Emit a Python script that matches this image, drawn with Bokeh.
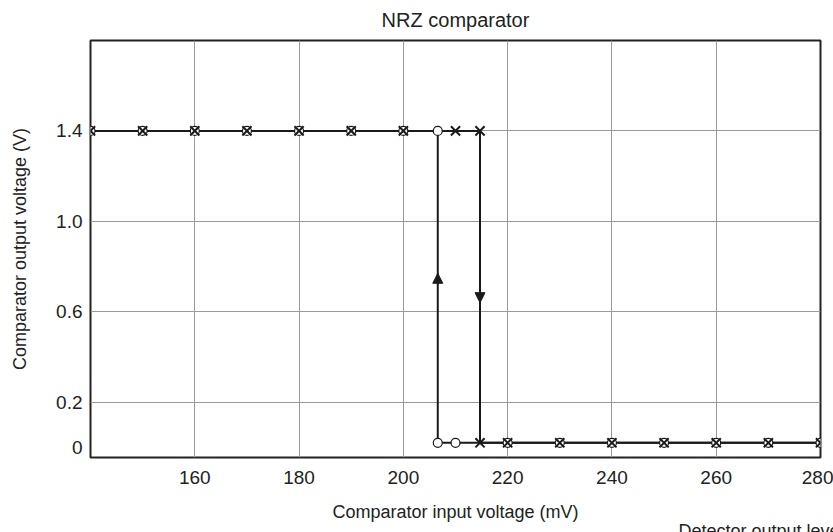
from bokeh.plotting import figure
from bokeh.models import (ColumnDataSource, Range1d, FixedTicker, Label, Arrow,
                          NormalHead, PrintfTickFormatter)
from bokeh.embed import file_html
from bokeh.resources import INLINE

# ---- data ----
HIGH = 1.4
LOW = 0.02
# increasing sweep (x markers)
inc_x_high = [140, 150, 160, 170, 180, 190, 200, 210, 214.7]
inc_x_low = [214.7, 220, 230, 240, 250, 260, 270, 280]
# decreasing sweep (circle markers)
dec_x_low = [280, 270, 260, 250, 240, 230, 220, 210, 206.6]
dec_x_high = [206.6, 200, 190, 180, 170, 160, 150, 140]
# arrows on the vertical transitions
arrow_x = [206.6, 214.7]
arrow_tail = [0.66, 0.75]
arrow_tip = [0.77, 0.64]

x_ticks = [160, 180, 200, 220, 240, 260, 280]
y_ticks = [0, 0.2, 0.6, 1.0, 1.4]
y_grid = [0.2, 0.6, 1.0, 1.4]

FONT = "Liberation Sans"
TXT = "#222222"

p = figure(width=833, height=532, output_backend="svg", toolbar_location=None,
           x_range=Range1d(140, 280), y_range=Range1d(-0.045, 1.8),
           min_border_left=90, min_border_right=13, min_border_top=40,
           min_border_bottom=75, title="NRZ comparator")
p.background_fill_color = "white"
p.border_fill_color = "white"
p.outline_line_color = "#222222"
p.outline_line_width = 2

p.title.align = "center"
p.title.vertical_align = "top"
p.title.text_font = FONT
p.title.text_font_size = "20px"
p.title.text_font_style = "normal"
p.title.text_color = TXT
p.title.standoff = 16

p.xaxis.ticker = FixedTicker(ticks=x_ticks)
p.yaxis.ticker = FixedTicker(ticks=y_ticks)
p.xgrid.ticker = FixedTicker(ticks=x_ticks)
p.ygrid.ticker = FixedTicker(ticks=y_grid)
for g in (p.xgrid, p.ygrid):
    g.grid_line_color = "#9a9a9a"
    g.grid_line_width = 1

for ax in (p.xaxis, p.yaxis):
    ax.axis_line_color = None
    ax.major_tick_line_color = None
    ax.minor_tick_line_color = None
    ax.major_tick_out = 0
    ax.major_tick_in = 0
    ax.major_label_text_font = FONT
    ax.major_label_text_font_size = "19px"
    ax.major_label_text_color = TXT
    ax.axis_label_text_font = FONT
    ax.axis_label_text_font_size = "18px"
    ax.axis_label_text_font_style = "normal"
    ax.axis_label_text_color = TXT

p.yaxis.axis_label = "Comparator output voltage (V)"
p.xaxis.major_label_standoff = 13
p.yaxis.major_label_standoff = 8
p.yaxis.axis_label_standoff = 23
p.yaxis.formatter = PrintfTickFormatter(format="%.1f")
p.yaxis.major_label_overrides = {0: "0"}

inc_x = inc_x_high + inc_x_low
inc_y = [HIGH] * len(inc_x_high) + [LOW] * len(inc_x_low)
dec_x = dec_x_low + dec_x_high
dec_y = [LOW] * len(dec_x_low) + [HIGH] * len(dec_x_high)

inc = ColumnDataSource(dict(x=inc_x, y=inc_y))
dec = ColumnDataSource(dict(x=dec_x, y=dec_y))

p.line("x", "y", source=inc, line_color="#1a1a1a", line_width=2)
p.line("x", "y", source=dec, line_color="#1a1a1a", line_width=2)

p.scatter("x", "y", source=dec, marker="circle", size=9, fill_color="white",
          line_color="#1a1a1a", line_width=1.2)
p.scatter("x", "y", source=inc, marker="x", size=13, line_color="#1a1a1a",
          line_width=2)

arr = ColumnDataSource(dict(x0=arrow_x, y0=arrow_tail, x1=arrow_x, y1=arrow_tip))
p.add_layout(Arrow(x_start="x0", y_start="y0", x_end="x1", y_end="y1",
                   source=arr, line_alpha=0,
                   end=NormalHead(size=10, fill_color="#1a1a1a",
                                  line_color="#1a1a1a", line_width=1)))

# x-axis title and the trailing caption, both in the area below the frame
p.add_layout(Label(x=365, y=5, x_units="screen", y_units="screen",
                   text="Comparator input voltage (mV)", text_font=FONT,
                   text_font_size="18px", text_color=TXT, text_align="center",
                   text_baseline="top"), "below")
p.add_layout(Label(x=588, y=6, x_units="screen", y_units="screen",
                   text="Detector output level", text_font=FONT,
                   text_font_size="18px", text_color=TXT,
                   text_baseline="top"), "below")

open("out.html", "w").write(file_html(p, INLINE))
